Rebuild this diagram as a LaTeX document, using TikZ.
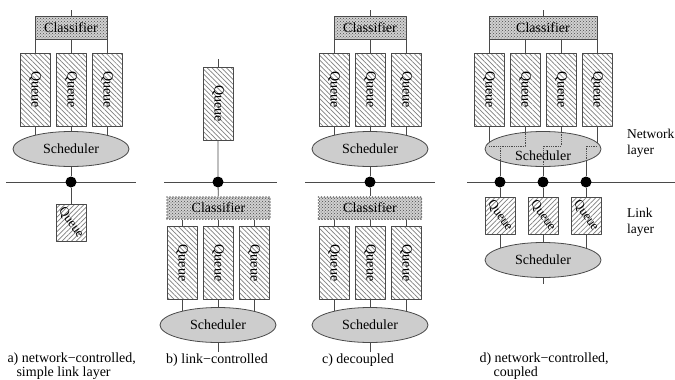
\documentclass[tikz,border=0pt]{standalone}
\usepackage{fontspec}
\setmainfont{Liberation Serif}
\newfontfamily\diagfont{Liberation Serif}
\usepackage{tikz}
\usetikzlibrary{positioning,shapes.geometric,patterns,patterns.meta,backgrounds}
\definecolor{wire}{HTML}{4A4A4A}
\definecolor{hatch}{HTML}{808080}
\definecolor{schedfill}{HTML}{CDCDCD}
\definecolor{dotfill}{HTML}{D0D0D0}
\newcommand{\Qtxt}{\rotatebox{-90}{Queue}}
\newcommand{\Qtilt}{\rotatebox{-55}{Queue}}
\tikzset{
  Wire/.style={draw=wire, line width=0.8pt},
  QueueBox/.style={
    draw=wire, line width=0.8pt, inner sep=0pt,
    minimum width=30pt, minimum height=73pt,
    preaction={fill=white},
    pattern={Lines[angle=-45,distance=3.4pt,line width=0.7pt]}, pattern color=hatch,
    font=\diagfont\fontsize{14}{15}\selectfont
  },
  LinkQueue/.style={
    QueueBox, minimum height=37pt,
    pattern={Lines[angle=45,distance=3.4pt,line width=0.7pt]},
    font=\diagfont\fontsize{13}{14}\selectfont
  },
  ClassBox/.style={
    draw=wire, line width=0.8pt, inner sep=0pt,
    minimum width=72pt, minimum height=23pt,
    preaction={fill=dotfill},
    pattern=crosshatch dots, pattern color=black!70,
    font=\diagfont\fontsize{14}{15}\selectfont
  },
  LinkClass/.style={
    ClassBox, minimum width=103pt, minimum height=22pt,
    draw=black!55, line width=1.8pt, line cap=round, dash pattern=on 0pt off 3pt
  },
  SchedEll/.style={
    ellipse, draw=wire, line width=0.8pt, fill=schedfill, inner sep=0pt,
    minimum width=116pt, minimum height=35pt,
    font=\diagfont\fontsize{14}{15}\selectfont
  },
  JoinDot/.style={circle, fill=black, inner sep=0pt, minimum size=11pt},
  LayerTxt/.style={anchor=west, align=left, inner sep=0pt, font=\diagfont\fontsize{13.5}{16}\selectfont},
  CapTxt/.style={align=left, font=\diagfont\fontsize{14}{14.5}\selectfont}
}

\begin{document}
\begin{tikzpicture}[x=1pt, y=-1pt, line join=round]
  \useasboundingbox (0,0) rectangle (675,380);

  % a) network-controlled, simple link layer
  \coordinate (tA) at (71,10);
  \node[ClassBox] (cA) at (71,27.5) {Classifier};
  \node[QueueBox] (qA1) at (35,89.5) {\Qtxt};
  \node[QueueBox] (qA2) at (71,89.5) {\Qtxt};
  \node[QueueBox] (qA3) at (107,89.5) {\Qtxt};
  \node[SchedEll] (sA) at (71,149) {Scheduler};
  \node[JoinDot] (dA) at (71,182) {};
  \coordinate (hA1) at (6,182);
  \coordinate (hA2) at (136,182);
  \node[LinkQueue] (lA) at (71,222.5) {\Qtilt};

  % b) link-controlled
  \coordinate (tB) at (218,59);
  \node[QueueBox] (qB0) at (218,103.5) {\Qtxt};
  \node[JoinDot] (dB) at (218,182) {};
  \coordinate (hB1) at (164,182);
  \coordinate (hB2) at (277,182);
  \node[LinkClass] (cB) at (218.5,208) {Classifier};
  \node[QueueBox] (qB1) at (182,263) {\Qtxt};
  \node[QueueBox] (qB2) at (218,263) {\Qtxt};
  \node[QueueBox] (qB3) at (254,263) {\Qtxt};
  \node[SchedEll] (sB) at (218,325) {Scheduler};
  \coordinate (bB) at (218,352);

  % c) decoupled
  \coordinate (tC) at (370,10);
  \node[ClassBox] (cC) at (370,27.5) {Classifier};
  \node[QueueBox] (qC1) at (334,89.5) {\Qtxt};
  \node[QueueBox] (qC2) at (370,89.5) {\Qtxt};
  \node[QueueBox] (qC3) at (406,89.5) {\Qtxt};
  \node[SchedEll] (sC) at (370,149) {Scheduler};
  \node[JoinDot] (dC) at (370,182) {};
  \coordinate (hC1) at (305,182);
  \coordinate (hC2) at (435,182);
  \node[LinkClass] (cC2) at (370,208) {Classifier};
  \node[QueueBox] (qC4) at (334,263) {\Qtxt};
  \node[QueueBox] (qC5) at (370,263) {\Qtxt};
  \node[QueueBox] (qC6) at (406,263) {\Qtxt};
  \node[SchedEll] (sC2) at (370,325) {Scheduler};
  \coordinate (bC) at (370,352);

  % d) network-controlled, coupled
  \coordinate (tD) at (543,10);
  \node[ClassBox, minimum width=108pt] (cD) at (543,27.5) {Classifier};
  \node[QueueBox] (qD1) at (489,89.5) {\Qtxt};
  \node[QueueBox] (qD2) at (525,89.5) {\Qtxt};
  \node[QueueBox] (qD3) at (561,89.5) {\Qtxt};
  \node[QueueBox] (qD4) at (597,89.5) {\Qtxt};
  \node[SchedEll, label={[font=\diagfont\fontsize{14}{15}\selectfont, yshift=-7pt]center:Scheduler}] (sD) at (543,149) {};
  \coordinate (rD) at (0,146);
  \node[JoinDot] (dD1) at (500,182) {};
  \node[JoinDot] (dD2) at (543,182) {};
  \node[JoinDot] (dD3) at (586,182) {};
  \coordinate (hD1) at (467,182);
  \coordinate (hD2) at (675,182);
  \node[LinkQueue] (lD1) at (500,215.5) {\Qtilt};
  \node[LinkQueue] (lD2) at (543,215.5) {\Qtilt};
  \node[LinkQueue] (lD3) at (586,215.5) {\Qtilt};
  \node[SchedEll] (sD2) at (543,260) {Scheduler};
  \coordinate (bD) at (543,284);

  \begin{scope}[on background layer]
    \draw[Wire] (tA) -- (cA);
    \draw[Wire] (qA1.north |- cA.south) -- (qA1.north);
    \draw[Wire] (qA2.north |- cA.south) -- (qA2.north);
    \draw[Wire] (qA3.north |- cA.south) -- (qA3.north);
    \draw[Wire] (qA1.south) -- (qA1.south |- sA.center);
    \draw[Wire] (qA2.south) -- (qA2.south |- sA.center);
    \draw[Wire] (qA3.south) -- (qA3.south |- sA.center);
    \draw[Wire] (sA) -- (dA) -- (lA.north);
    \draw[Wire] (hA1) -- (hA2);

    \draw[Wire] (tB) -- (qB0.north);
    \draw[Wire] (qB0.south) -- (dB) -- (cB);
    \draw[Wire] (hB1) -- (hB2);
    \draw[Wire] (qB1.north |- cB.south) -- (qB1.north);
    \draw[Wire] (qB2.north |- cB.south) -- (qB2.north);
    \draw[Wire] (qB3.north |- cB.south) -- (qB3.north);
    \draw[Wire] (qB1.south) -- (qB1.south |- sB.center);
    \draw[Wire] (qB2.south) -- (qB2.south |- sB.center);
    \draw[Wire] (qB3.south) -- (qB3.south |- sB.center);
    \draw[Wire] (sB) -- (bB);

    \draw[Wire] (tC) -- (cC);
    \draw[Wire] (qC1.north |- cC.south) -- (qC1.north);
    \draw[Wire] (qC2.north |- cC.south) -- (qC2.north);
    \draw[Wire] (qC3.north |- cC.south) -- (qC3.north);
    \draw[Wire] (qC1.south) -- (qC1.south |- sC.center);
    \draw[Wire] (qC2.south) -- (qC2.south |- sC.center);
    \draw[Wire] (qC3.south) -- (qC3.south |- sC.center);
    \draw[Wire] (sC) -- (dC) -- (cC2);
    \draw[Wire] (hC1) -- (hC2);
    \draw[Wire] (qC4.north |- cC2.south) -- (qC4.north);
    \draw[Wire] (qC5.north |- cC2.south) -- (qC5.north);
    \draw[Wire] (qC6.north |- cC2.south) -- (qC6.north);
    \draw[Wire] (qC4.south) -- (qC4.south |- sC2.center);
    \draw[Wire] (qC5.south) -- (qC5.south |- sC2.center);
    \draw[Wire] (qC6.south) -- (qC6.south |- sC2.center);
    \draw[Wire] (sC2) -- (bC);

    \draw[Wire] (tD) -- (cD);
    \draw[Wire] (qD1.north |- cD.south) -- (qD1.north);
    \draw[Wire] (qD2.north |- cD.south) -- (qD2.north);
    \draw[Wire] (qD3.north |- cD.south) -- (qD3.north);
    \draw[Wire] (qD4.north |- cD.south) -- (qD4.north);
    \draw[Wire] (qD1.south) -- (qD1.south |- rD) -- (qD2.south |- rD) -- (qD2.south);
    \draw[Wire] (dD1 |- rD) -- (dD1);
    \draw[Wire] (qD3.south) -- (qD3.south |- rD) -- (dD2 |- rD) -- (dD2);
    \draw[Wire] (qD4.south) -- (qD4.south |- rD) -- (dD3 |- rD) -- (dD3);
    \draw[Wire] (hD1) -- (hD2);
    \draw[Wire] (dD1) -- (lD1.north);
    \draw[Wire] (dD2) -- (lD2.north);
    \draw[Wire] (dD3) -- (lD3.north);
    \draw[Wire] (lD1.south) -- (lD1.south |- sD2.center);
    \draw[Wire] (lD2.south) -- (lD2.south |- sD2.center);
    \draw[Wire] (lD3.south) -- (lD3.south |- sD2.center);
    \draw[Wire] (sD2) -- (bD);
  \end{scope}

  % routes seen through the shared scheduler
  \draw[Wire, densely dotted] (qD1.south |- rD) -- (qD2.south |- rD) -- (qD2.south);
  \draw[Wire, densely dotted] (dD1 |- rD) -- (dD1);
  \draw[Wire, densely dotted] (qD3.south) -- (qD3.south |- rD) -- (dD2 |- rD) -- (dD2);
  \draw[Wire, densely dotted] (qD4.south |- rD) -- (dD3 |- rD) -- (dD3);

  \node[LayerTxt] (nLay) at (627,143) {Network\\layer};
  \node[LayerTxt] (lLay) at (627,222) {Link\\layer};

  \node[CapTxt, anchor=west] (capA) at (4,366) {a) network−controlled,\\\hspace*{9pt}simple link layer};
  \node[CapTxt] (capB) at (217,360) {b) link−controlled};
  \node[CapTxt] (capC) at (358,360) {c) decoupled};
  \node[CapTxt, anchor=west] (capD) at (476,366) {d) network−controlled,\\\hspace*{14pt}coupled};
\end{tikzpicture}
\end{document}
